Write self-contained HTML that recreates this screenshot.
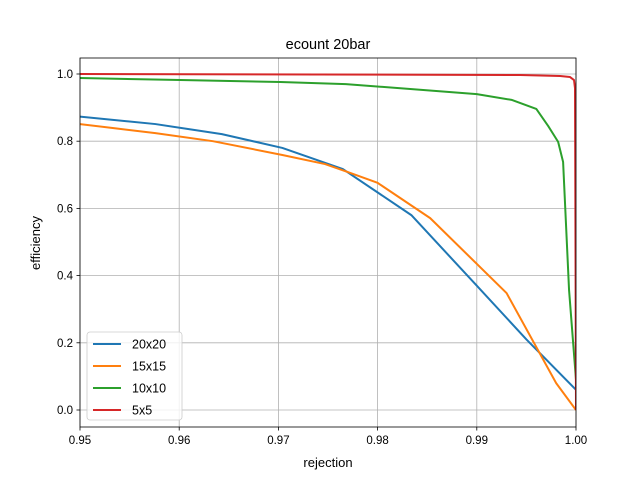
<!DOCTYPE html>
<html><head><meta charset="utf-8"><style>body{margin:0;background:#fff}svg{display:block;font-family:"Liberation Sans","DejaVu Sans",sans-serif}</style></head>
<body>
<svg id="chart" width="640" height="480">
<rect width="640" height="480" fill="#fff"/>
<g id="grid"></g><g id="series"></g><g id="axes"></g>
<text x="328" y="49" text-anchor="middle" font-size="14.5">ecount 20bar</text>
<text x="328" y="467" text-anchor="middle" font-size="13">rejection</text>
<text transform="translate(40,243) rotate(-90)" text-anchor="middle" font-size="13">efficiency</text>
<g id="legend"></g>
</svg>
<script>
const seriesNames=["20x20","15x15","10x10","5x5"];
const colors=["#1f77b4","#ff7f0e","#2ca02c","#d62728"];
const xTicks=[0.95,0.96,0.97,0.98,0.99,1.0];
const xTickLabels=["0.95","0.96","0.97","0.98","0.99","1.00"];
const yTicks=[0,0.2,0.4,0.6,0.8,1.0];
const yTickLabels=["0.0","0.2","0.4","0.6","0.8","1.0"];
const rej20=[0.95,0.9576,0.9643,0.9704,0.9765,0.9834,0.99,0.995,1.0];
const eff20=[0.873,0.851,0.821,0.78,0.717,0.58,0.37,0.21,0.06];
const rej15=[0.95,0.9576,0.9634,0.9704,0.9747,0.977,0.98,0.9853,0.993,0.998,1.0];
const eff15=[0.851,0.824,0.80,0.759,0.732,0.708,0.676,0.571,0.348,0.08,0.0];
const rej10=[0.95,0.9601,0.9702,0.9768,0.99,0.9935,0.996,0.9972,0.9982,0.9987,0.9993,1.0];
const eff10=[0.988,0.982,0.976,0.97,0.94,0.923,0.896,0.845,0.798,0.738,0.357,0.09];
const rej5=[0.95,0.9944,0.9984,0.9994,0.9998,0.9999,1.0];
const eff5=[1.0,0.997,0.994,0.991,0.982,0.958,0.0];
const L=80,R=576,T=58,B=427,xmin=0.95,xmax=1.0,ymin=-0.0506,ymax=1.0476;
const sx=v=>L+(v-xmin)/(xmax-xmin)*(R-L);
const sy=v=>B-(v-ymin)/(ymax-ymin)*(B-T);
const NS="http://www.w3.org/2000/svg";
function mk(tag,attrs,parent){const e=document.createElementNS(NS,tag);for(const k in attrs)e.setAttribute(k,attrs[k]);parent.appendChild(e);return e;}
const grid=document.getElementById('grid'),axes=document.getElementById('axes'),ser=document.getElementById('series'),leg=document.getElementById('legend');
xTicks.forEach((t,i)=>{const x=sx(t);
const g=mk('line',{x1:x,x2:x,y1:T,y2:B,stroke:'#b0b0b0','stroke-width':0.8},grid);


const tk=mk('line',{x1:x,x2:x,y1:B,y2:B+3.5,stroke:'#000','stroke-width':0.8},axes);


const tx=mk('text',{x:x,y:B+17,'text-anchor':'middle','font-size':11.5},axes);tx.textContent=xTickLabels[i];

});
yTicks.forEach((t,i)=>{const y=sy(t);
const g=mk('line',{x1:L,x2:R,y1:y,y2:y,stroke:'#b0b0b0','stroke-width':0.8},grid);


const tk=mk('line',{x1:L-3.5,x2:L,y1:y,y2:y,stroke:'#000','stroke-width':0.8},axes);


const tx=mk('text',{x:L-7,y:y+4,'text-anchor':'end','font-size':11.5},axes);tx.textContent=yTickLabels[i];

});
const fr=mk('rect',{x:L,y:T,width:R-L,height:B-T,fill:'none',stroke:'#000','stroke-width':0.8},axes);


const data=[[rej20,eff20],[rej15,eff15],[rej10,eff10],[rej5,eff5]];
const clip=mk('clipPath',{id:'pc'},ser);mk('rect',{x:L,y:T,width:R-L,height:B-T},clip);
data.forEach((d,i)=>{const pts=d[0].map((x,j)=>sx(x)+','+sy(d[1][j])).join(' ');
const p=mk('polyline',{points:pts,fill:'none',stroke:colors[i],'stroke-width':2,'clip-path':'url(#pc)','stroke-linejoin':'round'},ser);

});
const lb=mk('rect',{x:87,y:332,width:95,height:88,rx:3,fill:'#fff','fill-opacity':0.8,stroke:'#ccc','stroke-width':0.8},leg);


seriesNames.forEach((n,i)=>{const y=344+i*22;
const ln=mk('line',{x1:93,x2:121,y1:y,y2:y,stroke:colors[i],'stroke-width':2},leg);


const t=mk('text',{x:132,y:y+4.5,'font-size':12.5},leg);t.textContent=n;

});
</script>
</body></html>
